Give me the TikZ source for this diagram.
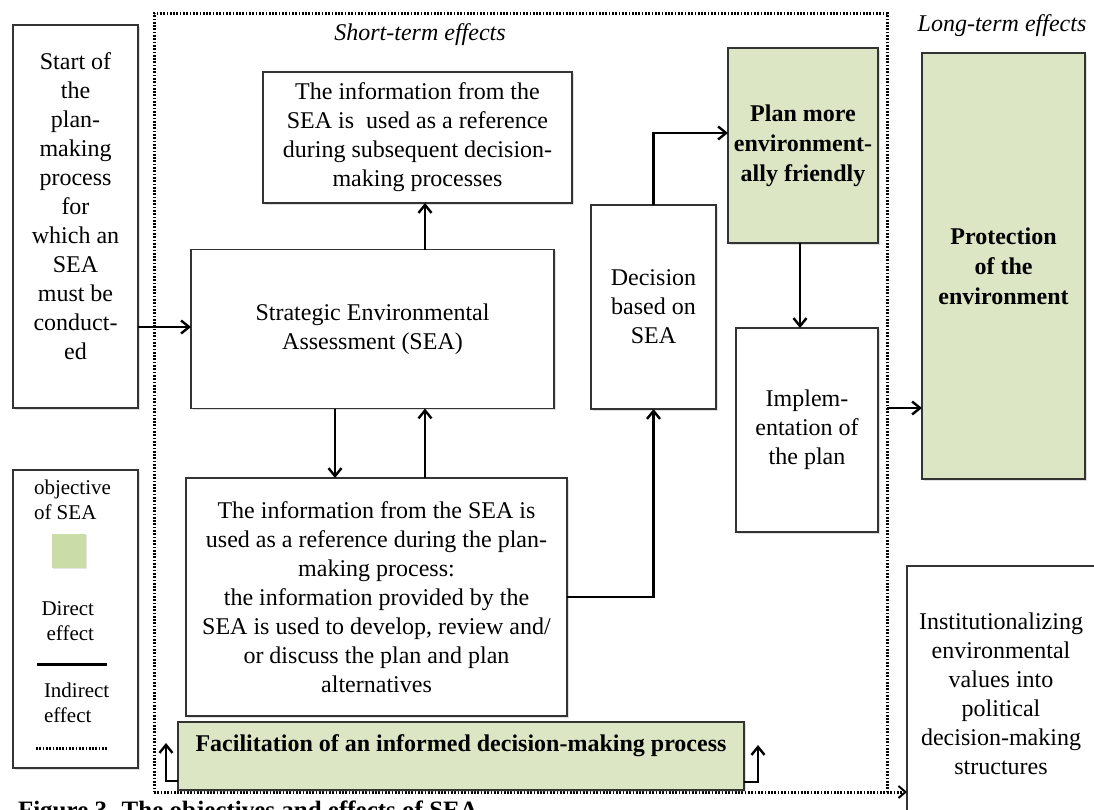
\documentclass[tikz,border=0pt]{standalone}
\usepackage{fontspec}
\setmainfont{Liberation Serif}
\usetikzlibrary{arrows.meta,shadows}
\definecolor{objgreen}{HTML}{DCE6C4}
\definecolor{legendgreen}{HTML}{CADCA8}
\definecolor{boxline}{HTML}{333333}

\begin{document}
\begin{tikzpicture}[x=1pt,y=-1pt,
  every node/.style={font=\fontsize{24}{29}\selectfont, inner sep=0pt, outer sep=0pt},
  box/.style={draw=boxline, line width=1.7pt, fill=white,
    drop shadow={shadow xshift=1.5pt, shadow yshift=-1.5pt, opacity=0.25}},
  goal/.style={box, fill=objgreen},
  txt/.style={align=center},
  bold/.style={align=center, font=\fontsize{24}{30}\selectfont\bfseries},
  heading/.style={font=\fontsize{24}{29}\selectfont\itshape},
  legtxt/.style={font=\fontsize{21}{25}\selectfont},
  arr/.style={line width=2.6pt, -{Straight Barb[length=8pt,width=13pt,line width=2.4pt]}},
  dots/.style={line width=3pt, dash pattern=on 1.7pt off 1.6pt},
]
\useasboundingbox (0,0) rectangle (1094,809);
\clip (0,0) rectangle (1094,809);

% dotted frame around the short-term effects
\node[dots, draw, minimum width=733pt, minimum height=779pt] (frame) at (520.5,402.5) {};
\node[heading] (shortlbl) at (420,35) {Short-term effects};
\node[heading] (longlbl) at (1002,26) {Long-term effects};

% boxes
\node[box, minimum width=125pt, minimum height=383pt] (start) at (75.5,216.5) {};
\node[txt] (starttext) at (75.5,206) {Start of\\the\\plan-\\making\\process\\for\\which an\\SEA\\must be\\conduct-\\ed};

\node[box, minimum width=309pt, minimum height=131pt, txt] (top) at (417.5,137.5)
  {The information from the\\SEA is\ \ used as a reference\\during subsequent decision-\\making processes};

\node[box, minimum width=363pt, minimum height=159pt, txt] (sea) at (372.5,329)
  {Strategic Environmental\\Assessment (SEA)};

\node[box, minimum width=125pt, minimum height=204pt, txt] (dec) at (653.5,307)
  {Decision\\based on\\SEA};

\node[goal, minimum width=150pt, minimum height=195pt, bold] (plan) at (803,145.5)
  {Plan more\\environment-\\ally friendly};

\node[box, minimum width=142pt, minimum height=204pt, txt] (impl) at (807,430)
  {Implem-\\entation of\\the plan};

\node[goal, minimum width=163pt, minimum height=426pt, bold] (prot) at (1003.5,266)
  {Protection\\of the\\environment};

\node[box, minimum width=381pt, minimum height=238pt, txt] (bot) at (376.5,597)
  {The information from the SEA is\\used as a reference during the plan-\\making process:\\the information provided by the\\SEA is used to develop, review and/\\or discuss the plan and plan\\alternatives};

\node[goal, minimum width=566pt, minimum height=68pt] (fac) at (461,756) {};
\node[bold] (factext) at (461,746) {Facilitation of an informed decision-making process};

\node[box, minimum width=203pt, minimum height=264pt] (inst) at (1008.5,698) {};
\node[txt] (insttext) at (1001,694) {Institutionalizing\\environmental\\values into\\political\\decision-making\\structures};

% legend
\node[box, minimum width=125pt, minimum height=298pt] (legend) at (75.5,619) {};
\node[legtxt, align=left, anchor=west] (legobj) at (34,500) {objective\\of SEA};
\node[fill=legendgreen, minimum size=34pt,
  drop shadow={shadow xshift=1pt, shadow yshift=-1pt, opacity=0.2}] (legsq) at (69,551) {};
\node[legtxt, align=right, anchor=east] (legdir) at (94,621) {Direct\\effect};
\coordinate (ds) at (37,664);
\coordinate (de) at (107,664);
\draw[line width=3pt] (ds) -- (de);
\node[legtxt, align=left, anchor=west] (legind) at (44,703) {Indirect\\effect};
\coordinate (is) at (36,748);
\coordinate (ie) at (107,748);
\draw[dots] (is) -- (ie);

% direct effects
\draw[arr] (start.east |- 0,327) -- (sea.west |- 0,327);
\draw[arr] (sea.north -| 425,0) -- (top.south -| 425,0);
\draw[arr] (sea.south -| 335,0) -- (bot.north -| 335,0);
\draw[arr] (bot.north -| 425,0) -- (sea.south -| 425,0);
\draw[arr] (bot.east |- 0,597) -| (dec.south);
\draw[arr] (dec.north) |- (plan.west |- 0,133);
\draw[arr] (plan.south -| 800,0) -- (impl.north -| 800,0);
\draw[arr] (frame.east |- 0,408) -- (prot.west |- 0,408);
\coordinate (facl) at (166,743);
\coordinate (facr) at (758,745);
\draw[arr] (fac.west |- 0,781) -| (facl);
\draw[arr] (fac.east |- 0,782) -| (facr);

% indirect effect
\draw[dots, -{Straight Barb[length=7pt,width=12pt,line width=2pt]}] (frame.south east) -- (inst.west |- frame.south east);

% caption, running off the lower edge
\node[anchor=north west, font=\fontsize{25}{30}\selectfont\bfseries] (caption) at (18,801)
  {Figure 3. The objectives and effects of SEA};
\end{tikzpicture}
\end{document}
